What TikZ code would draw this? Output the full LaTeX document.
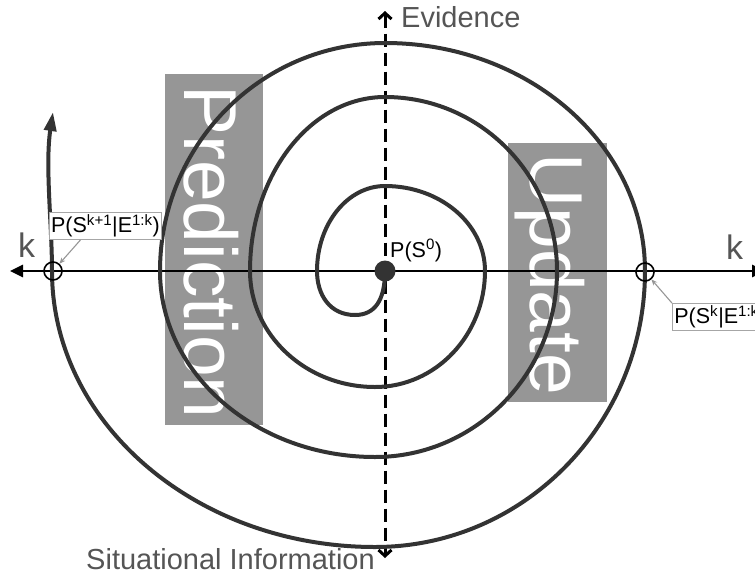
\documentclass[tikz,border=0pt]{standalone}
\usepackage{fontspec}
\setmainfont{Liberation Sans}
\usetikzlibrary{arrows.meta}
\definecolor{spiralc}{RGB}{51,51,51}
\definecolor{boxc}{RGB}{150,150,150}
\definecolor{labelc}{RGB}{85,85,85}
\definecolor{pointc}{RGB}{150,150,150}
\begin{document}
\begin{tikzpicture}[x=1pt,y=-1pt,
  phase/.style={fill=boxc, draw=none},
  phasetext/.style={text=white, rotate=-90, anchor=base west, inner sep=0pt, font=\fontsize{75}{80}\selectfont},
  axis/.style={line width=2.8pt, black},
  spiral/.style={line width=4pt, spiralc},
  marker/.style={circle, draw=black, line width=1.6pt, minimum size=18pt, inner sep=0pt},
  prob/.style={draw=gray!70, fill=white, line width=0.8pt, inner xsep=2pt, inner ysep=2pt, text=black, font=\fontsize{21.5}{24}\selectfont},
  pointer/.style={draw=pointc, line width=1.1pt, -{Stealth[length=6pt,width=5pt]}},
  axislabel/.style={text=labelc, inner sep=0pt, font=\fontsize{29}{32}\selectfont},
]
\useasboundingbox (0,0) rectangle (755,579);

% phase panels behind the spiral
\fill[phase] (165,74) rectangle (263,425);
\fill[phase] (508,143) rectangle (607,402);
\node[phasetext] (pred) at (184,85) {Prediction};
\node[phasetext] (upd) at (530,153) {Update};

% axes
\coordinate (kl) at (10,271);
\coordinate (kr) at (765,271);
\draw[axis, {Triangle[length=13pt,width=12pt]}-{Triangle[length=13pt,width=12pt]}] (kl) -- (kr);
\coordinate (ev) at (385,11);
\coordinate (si) at (385,558);
\draw[axis, line width=3pt, dash pattern=on 13pt off 6pt,
  {Straight Barb[length=6pt,width=13pt]}-{Straight Barb[length=6pt,width=13pt]}] (ev) -- (si);

% the spiral, from the initial state outwards
\draw[spiral, -{Triangle[length=19pt,width=12pt]}] (385,271)
 .. controls (385,300) and (375,315) .. (355,315)
 .. controls (330,315) and (317,295) .. (317,271)
 .. controls (317,224) and (347.4,186) .. (385,186)
 .. controls (440.2,186) and (485,224) .. (485,271)
 .. controls (485,335) and (435.8,387) .. (375,387)
 .. controls (306,387) and (250,335) .. (250,271)
 .. controls (250,174.9) and (310.4,97) .. (385,97)
 .. controls (480,97) and (557,175) .. (557,271)
 .. controls (557,373.7) and (475.5,457) .. (375,457)
 .. controls (256.3,457) and (160,373.7) .. (160,271)
 .. controls (160,145.1) and (260.7,43) .. (385,43)
 .. controls (528.6,43) and (645,145.1) .. (645,271)
 .. controls (645,423.4) and (524.1,547) .. (375,547)
 .. controls (196.6,547) and (52,423.4) .. (52,271)
 .. controls (52,225) and (45,165) .. (53,112);

% initial state
\node[circle, fill=spiralc, minimum size=21pt, inner sep=0pt] (s0) at (385,271) {};
\node[anchor=base west, inner sep=0pt, font=\fontsize{21.5}{24}\selectfont] (s0lbl) at (390,257) {P(S\textsuperscript{0})};

% crossing markers and their labels
\node[marker] (m1) at (53,271) {};
\node[marker] (m2) at (645,272) {};
\node[prob] (lbl1) at (105.5,226) {P(S\textsuperscript{k+1}|E\textsuperscript{1:k})};
\node[prob, anchor=west] (lbl2) at (672,317) {P(S\textsuperscript{k}|E\textsuperscript{1:k})};
\draw[pointer] ([xshift=-25pt]lbl1.south) -- (m1);
\draw[pointer] (lbl2.north west) -- (m2);

% axis labels
\node[axislabel, anchor=base west, font=\fontsize{34}{36}\selectfont] (kleft) at (18,257) {k};
\node[axislabel, anchor=base west, font=\fontsize{34}{36}\selectfont] (kright) at (726,259) {k};
\node[axislabel, anchor=base west] (evl) at (401,27) {Evidence};
\node[axislabel, anchor=base east] (sil) at (375,569) {Situational Information};
\end{tikzpicture}
\end{document}
